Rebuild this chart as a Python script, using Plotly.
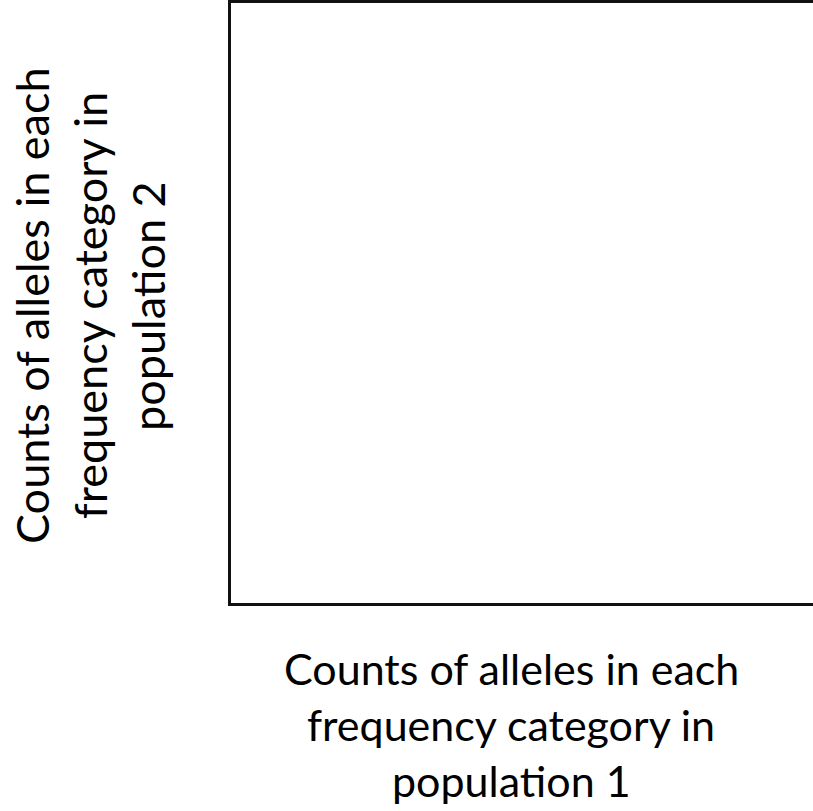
import plotly.graph_objects as go

# Axis title text, one entry per line
x_title_lines = ["Counts of alleles in each", "frequency category in", "population 1"]
y_title_lines = ["Counts of alleles in each", "frequency category in", "population 2"]

# No observations are plotted: the frame is an empty comparison space
pop1_counts = []
pop2_counts = []

W, H = 813, 811
M_L, M_R, M_T, M_B = 231, 0, 3, 208
plot_w = W - M_L - M_R
plot_h = H - M_T - M_B

FONT = "Lato"
X_SIZE = 43
Y_SIZE = 45
X_GAP = 56
Y_GAP = 58


def px_to_paper_x(px):
    return (px - M_L) / plot_w


def px_to_paper_y(py):
    return (H - M_B - py) / plot_h


fig = go.Figure()
fig.add_trace(go.Scatter(x=pop1_counts, y=pop2_counts, mode="markers",
                         showlegend=False))

annotations = []
# x-axis title, centred under the frame
for i, line in enumerate(x_title_lines):
    annotations.append(dict(
        text=line, xref="paper", yref="paper",
        x=px_to_paper_x(511), y=px_to_paper_y(668 + i * X_GAP),
        xanchor="center", yanchor="middle", showarrow=False,
        font=dict(family=FONT, size=X_SIZE, color="black"),
    ))
# y-axis title, rotated, reading bottom to top
for i, line in enumerate(y_title_lines):
    annotations.append(dict(
        text=line, xref="paper", yref="paper",
        x=px_to_paper_x(32 + i * Y_GAP), y=px_to_paper_y(306),
        xanchor="center", yanchor="middle", textangle=-90, showarrow=False,
        font=dict(family=FONT, size=Y_SIZE, color="black"),
    ))

axis_style = dict(showgrid=False, zeroline=False, showticklabels=False,
                  ticks="", showline=True, linecolor="#111111", linewidth=2.6)

fig.update_layout(
    width=W, height=H,
    margin=dict(l=M_L, r=M_R, t=M_T, b=M_B),
    paper_bgcolor="white", plot_bgcolor="white",
    xaxis=dict(range=[0, 1], mirror=True, **axis_style),
    yaxis=dict(range=[0, 1], mirror=False, **axis_style),
    annotations=annotations,
)

fig.write_html("out.html", config={"displayModeBar": False})
